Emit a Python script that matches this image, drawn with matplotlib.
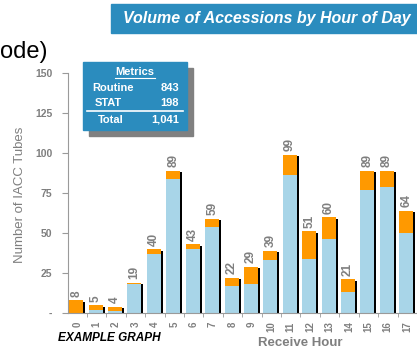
import matplotlib.pyplot as plt
from matplotlib.patches import Rectangle
from matplotlib.lines import Line2D

plt.rcParams['font.family'] = ['Liberation Sans', 'DejaVu Sans']

# Data (hours 0-17 visible)
hours = list(range(18))
routine = [0, 2, 1, 18, 37, 84, 40, 54, 17, 18, 33, 86, 34, 46, 13, 77, 79, 50]
stat = [8, 3, 3, 1, 3, 5, 3, 5, 5, 11, 6, 13, 17, 14, 8, 12, 10, 14]
totals = [r + s for r, s in zip(routine, stat)]
ytick_vals = [0, 25, 50, 75, 100, 125, 150]
ytick_labels = ["-", "25", "50", "75", "100", "125", "150"]

blue = "#2B8CBE"
light_blue = "#A8D5E8"
orange = "#FF9900"
gray = "#7F7F7F"
axis_gray = "#9A9A9A"

W, H = 417, 352
fig = plt.figure(figsize=(W / 100, H / 100), dpi=100)

ax = fig.add_axes([67.5 / W, (H - 313) / H, 349.5 / W, 240 / H])

bw = 0.72
xc = [h - 0.05 for h in hours]
# black drop shadow behind each bar
ax.bar([x + 0.1 for x in xc], [t - 1 for t in totals], width=bw, color="black", zorder=1)
ax.bar(xc, routine, width=bw, color=light_blue, zorder=2)
ax.bar(xc, stat, bottom=routine, width=bw, color=orange, zorder=2)

for x, t in zip(xc, totals):
    ax.annotate(str(t), (x, t), xytext=(0, 2.5), textcoords="offset points",
                rotation=90, ha="center", va="bottom", fontsize=8.5,
                fontweight="bold", color=gray)

ax.set_xlim(-0.5, 17.5)
ax.set_ylim(0, 150)
ax.set_yticks(ytick_vals)
ax.set_yticklabels(ytick_labels)
ax.set_xticks(hours)
ax.set_xticklabels([str(h) for h in hours], rotation=90)
ax.set_xticks([h + 0.5 for h in hours[:-1]], minor=True)
ax.tick_params(axis="x", which="major", length=0, pad=6, labelsize=7,
               labelcolor=gray)
ax.tick_params(axis="x", which="minor", length=3, color=axis_gray, direction="out")
ax.tick_params(axis="y", length=4, color=axis_gray, pad=7, labelsize=7.5,
               labelcolor=gray)
for lab in ax.get_xticklabels() + ax.get_yticklabels():
    lab.set_fontweight("bold")
for side in ["top", "right"]:
    ax.spines[side].set_visible(False)
for side in ["left", "bottom"]:
    ax.spines[side].set_color(axis_gray)
ax.patch.set_alpha(0)

# axis titles
fig.text(20 / W, 1 - 195 / H, "Number of IACC Tubes", rotation=90, ha="center",
         va="center", fontsize=9.5, color=gray)
fig.text(300 / W, 1 - 343 / H, "Receive Hour", ha="center", va="center",
         fontsize=9.5, fontweight="bold", color=gray)
fig.text(58 / W, 1 - 338 / H, "EXAMPLE GRAPH", ha="left", va="center",
         fontsize=8.5, fontweight="bold", fontstyle="italic", color="black")

# cropped slide title and header box
fig.text(0, 1 - 52 / H, "ode)", ha="left", va="center", fontsize=17, color="black")
fig.patches.append(Rectangle((111 / W, 1 - 33 / H), (W - 111) / W, 29 / H,
                             transform=fig.transFigure, color=blue, zorder=0))
fig.text(411 / W, 1 - 18.5 / H, "Volume of Accessions by Hour of Day", ha="right",
         va="center", fontsize=11.5, fontweight="bold", fontstyle="italic", color="white")

# metrics box
fig.patches.append(Rectangle((89 / W, 1 - 136 / H), 104 / W, 68 / H,
                             transform=fig.transFigure, color="#808080", zorder=3))
fig.patches.append(Rectangle((83 / W, 1 - 130 / H), 104 / W, 68 / H,
                             transform=fig.transFigure, color=blue, zorder=4))
tkw = dict(fontsize=8, fontweight="bold", color="white", va="center", zorder=5)
fig.text(135 / W, 1 - 72 / H, "Metrics", ha="center", **tkw)
fig.lines.append(Line2D([115 / W, 155 / W], [1 - 78 / H, 1 - 78 / H],
                        transform=fig.transFigure, color="white", lw=0.8, zorder=5))
fig.text(92 / W, 1 - 88 / H, "Routine", ha="left", **tkw)
fig.text(179 / W, 1 - 88 / H, "843", ha="right", **tkw)
fig.text(95 / W, 1 - 103 / H, "STAT", ha="left", **tkw)
fig.text(179 / W, 1 - 103 / H, "198", ha="right", **tkw)
fig.lines.append(Line2D([87 / W, 183 / W], [1 - 111 / H, 1 - 111 / H],
                        transform=fig.transFigure, color="white", lw=1.2, zorder=5))
fig.text(98 / W, 1 - 120 / H, "Total", ha="left", **tkw)
fig.text(179 / W, 1 - 120 / H, "1,041", ha="right", **tkw)

fig.savefig("out.png", dpi=100)
